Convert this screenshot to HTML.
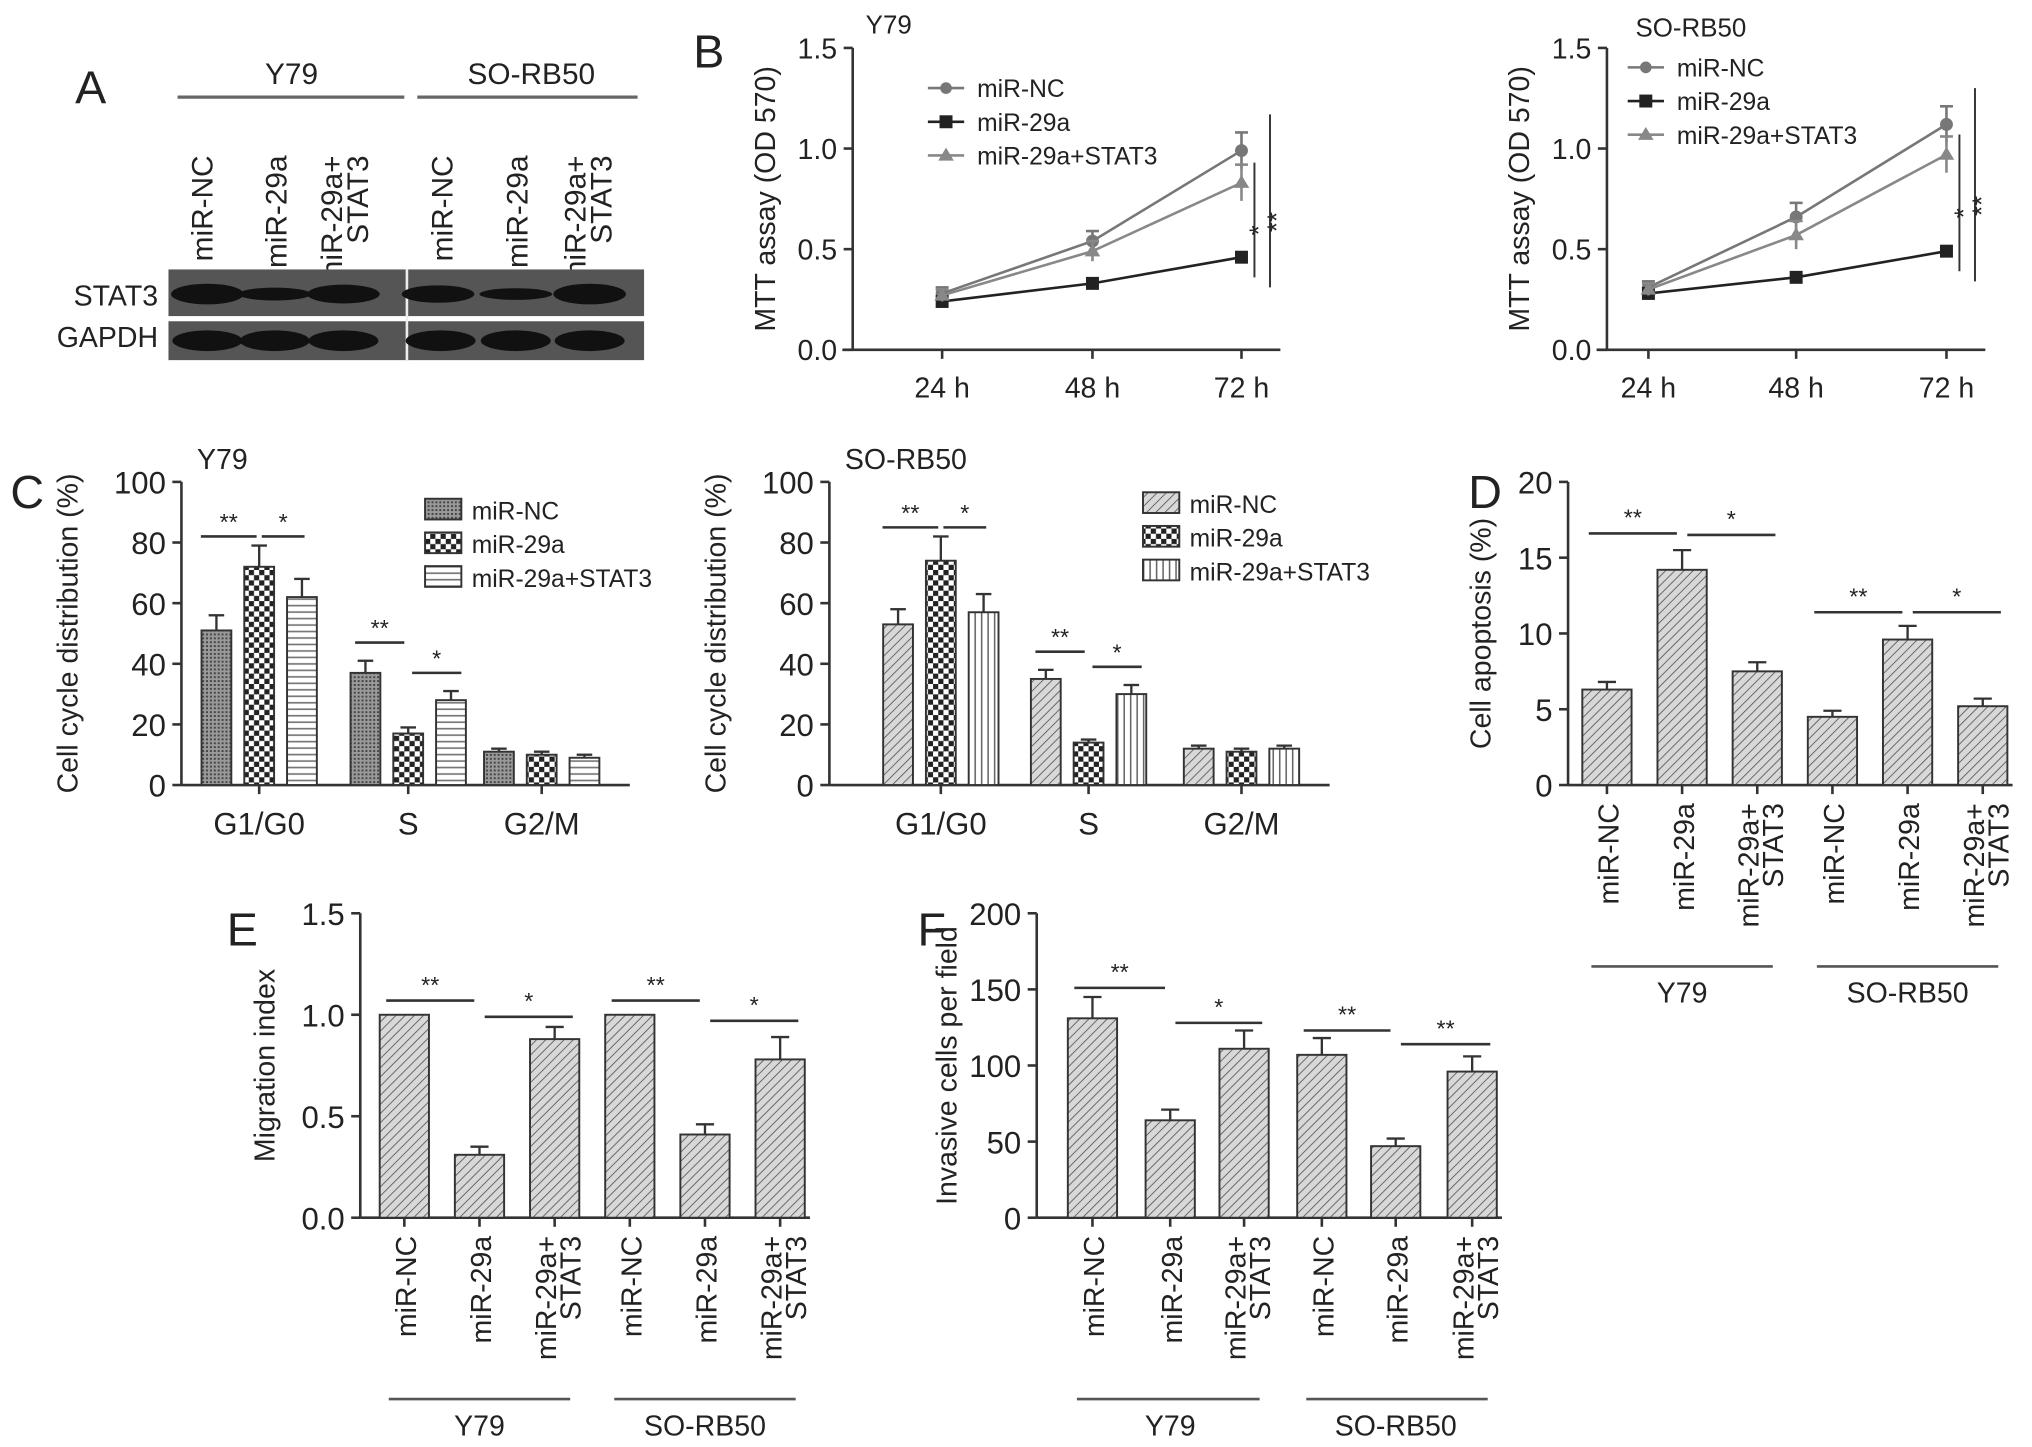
<!DOCTYPE html>
<html><head><meta charset="utf-8"><style>
html,body{margin:0;padding:0;background:#fff;}
svg{display:block;font-family:"Liberation Sans",sans-serif;}
text{fill:#222;}
</style></head><body>
<svg id="fig" width="2032" height="1447" viewBox="0 0 1568 1117" preserveAspectRatio="none" xmlns="http://www.w3.org/2000/svg">
<defs>
<pattern id="pHatch" width="5" height="5" patternUnits="userSpaceOnUse" patternTransform="rotate(45)"><rect width="5" height="5" fill="#d8d8d8"/><line x1="0" y1="0" x2="0" y2="5" stroke="#555" stroke-width="1.3"/></pattern>
<pattern id="pDense" width="3" height="3" patternUnits="userSpaceOnUse"><rect width="3" height="3" fill="#999"/><rect width="1.5" height="1.5" fill="#444"/></pattern>
<pattern id="pCheck" width="8" height="8" patternUnits="userSpaceOnUse"><rect width="8" height="8" fill="#fff"/><rect width="4" height="4" fill="#222"/><rect x="4" y="4" width="4" height="4" fill="#222"/></pattern>
<pattern id="pHoriz" width="5" height="5" patternUnits="userSpaceOnUse"><rect width="5" height="5" fill="#fff"/><line x1="0" y1="2.5" x2="5" y2="2.5" stroke="#777" stroke-width="1.3"/></pattern>
<pattern id="pVert" width="5" height="5" patternUnits="userSpaceOnUse"><rect width="5" height="5" fill="#fff"/><line x1="2.5" y1="0" x2="2.5" y2="5" stroke="#666" stroke-width="1.2"/></pattern>
</defs>
<g id="root"></g>
</svg>
<script>
// ---- Data ----
const mttTimes = ["24 h","48 h","72 h"];
const mttSeries = ["miR-NC","miR-29a","miR-29a+STAT3"];
const mttY79NC = [0.28,0.54,0.99];
const mttY79_29a = [0.24,0.33,0.46];
const mttY79_STAT3 = [0.27,0.49,0.83];
const mttY79Err = [0.03,0.05,0.09];
const mttSO_NC = [0.31,0.66,1.12];
const mttSO_29a = [0.28,0.36,0.49];
const mttSO_STAT3 = [0.30,0.57,0.97];
const mttSOErr = [0.03,0.07,0.09];
const mttTicks = [0.0,0.5,1.0,1.5];

const ccPhases = ["G1/G0","S","G2/M"];
const ccY79NC = [51,37,11];
const ccY79_29a = [72,17,10];
const ccY79_STAT3 = [62,28,9];
const ccY79Err = [[5,4,1],[7,2,1],[6,3,1]];
const ccSONC = [53,35,12];
const ccSO_29a = [74,14,11];
const ccSO_STAT3 = [57,30,12];
const ccSOErr = [[5,3,1],[8,1,1],[6,3,1]];
const ccTicks = [0,20,40,60,80,100];

const groupLabels = ["miR-NC","miR-29a","miR-29a+|STAT3","miR-NC","miR-29a","miR-29a+|STAT3"];
const apoptosisVals = [6.3,14.2,7.5,4.5,9.6,5.2];
const apoptosisErr = [0.5,1.3,0.6,0.4,0.9,0.5];
const apoptosisTicks = [0,5,10,15,20];
const migrationVals = [1.0,0.31,0.88,1.0,0.41,0.78];
const migrationErr = [0,0.04,0.06,0,0.05,0.11];
const migrationTicks = [0.0,0.5,1.0,1.5];
const invasionVals = [131,64,111,107,47,96];
const invasionErr = [14,7,12,11,5,10];
const invasionTicks = [0,50,100,150,200];

const NS="http://www.w3.org/2000/svg";
const root=document.getElementById('root');
function el(tag,attrs,parent,txt){const e=document.createElementNS(NS,tag);for(const k in attrs)e.setAttribute(k,attrs[k]);if(txt!==undefined)e.textContent=txt;(parent||root).appendChild(e);return e;}
function line(x1,y1,x2,y2,p,w,c){return el('line',{x1,y1,x2,y2,stroke:c||'#333','stroke-width':w||2},p);}
function txt(x,y,s,size,anchor,p,rot){const a={x,y,'font-size':size,'text-anchor':anchor||'middle'};if(rot)a.transform=`rotate(-90 ${x} ${y})`;return el('text',a,p,s);}

// Panel letters
[["A",58,80],["B",535,52],["C",8,392],["D",1133,392],["E",175,730],["F",708,730]].forEach(([l,x,y])=>{
 const t=txt(x,y,l,36,'start');
 
 
});

// ---- Panel A (western blot) ----
(function(){
 const g=el('g',{});
 
 
 txt(225,65,"Y79",23,'middle',g);
 line(137,75,312,75,g,2.5,'#666');
 txt(410,65,"SO-RB50",23,'middle',g); line(322,75,492,75,g,2.5,'#666');
 const cols=[155,212,262,340,398,450];
 groupLabels.forEach((l,i)=>{const parts=l.split('|');
  if(parts.length==1){txt(cols[i]+9,120,parts[0],23,'end',g,true);}
  else{txt(cols[i]+2,120,parts[0],23,'end',g,true);txt(cols[i]+22,120,parts[1],23,'end',g,true);}
 });
 txt(122,236,"STAT3",22,'end',g); txt(122,268,"GAPDH",22,'end',g);
 el('rect',{x:130,y:208,width:367,height:36,fill:'#555'},g);
 el('rect',{x:130,y:248,width:367,height:30,fill:'#555'},g);
 line(314,208,314,278,g,2,'#eee');
 const stat=[[160,1],[212,0.4],[265,0.85],[338,0.75],[398,0.3],[455,1]];
 stat.forEach(([x,s])=>el('ellipse',{cx:x,cy:227,rx:28,ry:3+5*s,fill:'#111'},g));
 [160,212,265,340,398,455].forEach(x=>el('ellipse',{cx:x,cy:263,rx:27,ry:8,fill:'#111'},g));
})();

// ---- Line chart helper ----
function lineChart(name,ox,y0,y15,xs,title,tx,ty,lgx,lgy,series,err){
 const g=el('g',{});
 
 
 const ys=v=>y0-(v/1.5)*(y0-y15);
 line(ox,y15,ox,y0,g); line(ox-8,y0,xs[2]+30,y0,g);
 mttTicks.forEach(t=>{line(ox-7,ys(t),ox,ys(t),g);txt(ox-12,ys(t)+8,t.toFixed(1),22,'end',g);});
 mttTimes.forEach((t,i)=>{line(xs[i],y0,xs[i],y0+7,g);txt(xs[i],y0+37,t,22,'middle',g);});
 txt(ox-60,(y0+y15)/2,"MTT assay (OD 570)",22,'middle',g,true);
 txt(tx,ty,title,20,'start',g);
 const cols=['#777','#222','#888'];
 series.forEach((s,si)=>{
  const pts=s.map((v,i)=>`${xs[i]},${ys(v)}`).join(' ');
  el('polyline',{points:pts,fill:'none',stroke:cols[si],'stroke-width':2},g);
  s.forEach((v,i)=>{
   if(si!=1){line(xs[i],ys(v+err[i]),xs[i],ys(v-err[i]),g,2,cols[si]);line(xs[i]-5,ys(v+err[i]),xs[i]+5,ys(v+err[i]),g,2,cols[si]);}
   const m=si==0?el('circle',{cx:xs[i],cy:ys(v),r:5,fill:cols[si]},g):si==1?el('rect',{x:xs[i]-5,y:ys(v)-5,width:10,height:10,fill:cols[si]},g):el('polygon',{points:`${xs[i]},${ys(v)-6} ${xs[i]-6},${ys(v)+4} ${xs[i]+6},${ys(v)+4}`,fill:cols[si]},g);
   
   
  });
  const ly=lgy+si*26;
  line(lgx-14,ly,lgx+14,ly,g,2,cols[si]);
  if(si==0)el('circle',{cx:lgx,cy:ly,r:4.5,fill:cols[si]},g);else if(si==1)el('rect',{x:lgx-5,y:ly-5,width:10,height:10,fill:cols[si]},g);else el('polygon',{points:`${lgx},${ly-6} ${lgx-6},${ly+4} ${lgx+6},${ly+4}`,fill:cols[si]},g);
  txt(lgx+24,ly+7,mttSeries[si],19,'start',g);
 });
 const x2=xs[2];
 line(x2+10,ys(series[2][2]+0.1),x2+10,ys(series[1][2]-0.1),g,1.5);
 line(x2+22,ys(series[0][2]+0.18),x2+22,ys(series[1][2]-0.15),g,1.5);
 txt(x2+20,ys((series[2][2]+series[1][2])/2)+8,"*",20,'middle',g,true);
 txt(x2+34,ys((series[0][2]+series[1][2])/2)+14,"**",20,'middle',g,true);
}
lineChart('mtt-y79-chart',658,270,37,[727,843,958],"Y79",668,26,730,68,[mttY79NC,mttY79_29a,mttY79_STAT3],mttY79Err);
lineChart('mtt-sorb50-chart',1240,270,37,[1272,1386,1502],"SO-RB50",1262,28,1270,52,[mttSO_NC,mttSO_29a,mttSO_STAT3],mttSOErr);

// ---- Grouped bar chart (panel C) ----
function ccChart(name,ox,y0,y100,centers,title,data,errs,fills,lgx,lgy){
 const g=el('g',{});
 
 
 const ys=v=>y0-(v/100)*(y0-y100);
 line(ox,y100,ox,y0,g); line(ox,y0,centers[2]+68,y0,g);
 ccTicks.forEach(t=>{line(ox-7,ys(t),ox,ys(t),g);txt(ox-12,ys(t)+9,t,24,'end',g);});
 ccPhases.forEach((p,i)=>{line(centers[i],y0,centers[i],y0+7,g);txt(centers[i],y0+38,p,24,'middle',g);});
 txt(ox-80,(y0+y100)/2,"Cell cycle distribution (%)",22,'middle',g,true);
 txt(ox+12,y100-10,title,22,'start',g);
 const bw=23,gap=33;
 data.forEach((s,si)=>{
  s.forEach((v,i)=>{
   const x=centers[i]+(si-1)*gap-bw/2;
   const r=el('rect',{x,y:ys(v),width:bw,height:ys(0)-ys(v),fill:fills[si],stroke:'#333','stroke-width':1.5},g);
   
   
   const e=errs[si][i];
   line(x+bw/2,ys(v),x+bw/2,ys(v+e),g,1.8);line(x+bw/2-6,ys(v+e),x+bw/2+6,ys(v+e),g,1.8);
  });
  el('rect',{x:lgx,y:lgy+si*26-8,width:28,height:16,fill:fills[si],stroke:'#333','stroke-width':1.5},g);
  txt(lgx+36,lgy+si*26+8,mttSeries[si],19,'start',g);
 });
 const sig=(xa,xb,yv,s)=>{line(xa,ys(yv),xb,ys(yv),g,2);txt((xa+xb)/2,ys(yv)-5,s,18,'middle',g);};
 const top=data[1][0]+errs[1][0]+3;
 sig(centers[0]-gap-12,centers[0]-2,top,"**");
 sig(centers[0]+2,centers[0]+gap+2,top,"*");
 sig(centers[1]-gap-8,centers[1]-3,data[0][1]+errs[0][1]+6,"**");
 sig(centers[1]+3,centers[1]+gap+8,data[2][1]+errs[2][1]+6,"*");
}
ccChart('cell-cycle-y79-chart',140,606,372,[200,315,418],"Y79",[ccY79NC,ccY79_29a,ccY79_STAT3],ccY79Err,['url(#pDense)','url(#pCheck)','url(#pHoriz)'],328,393);
ccChart('cell-cycle-sorb50-chart',640,606,372,[726,840,958],"SO-RB50",[ccSONC,ccSO_29a,ccSO_STAT3],ccSOErr,['url(#pHatch)','url(#pCheck)','url(#pVert)'],882,388);

// ---- Six-bar charts (D, E, F) ----
function sixChart(name,ox,y0,ytop,vmax,ticks,dec,xs,vals,errs,ylab,ylx,sigs,bw){
 const g=el('g',{});
 
 
 const ys=v=>y0-(v/vmax)*(y0-ytop);
 line(ox,ytop,ox,y0,g); line(ox,y0,xs[5]+bw/2+4,y0,g);
 ticks.forEach(t=>{line(ox-7,ys(t),ox,ys(t),g);txt(ox-12,ys(t)+9,t.toFixed(dec),24,'end',g);});
 txt(ylx,(y0+ytop)/2,ylab,22,'middle',g,true);
 vals.forEach((v,i)=>{
  const r=el('rect',{x:xs[i]-bw/2,y:ys(v),width:bw,height:ys(0)-ys(v),fill:'url(#pHatch)',stroke:'#333','stroke-width':1.5},g);
  
  
  const e=errs[i];
  if(e>0){line(xs[i],ys(v),xs[i],ys(v+e),g,1.8);line(xs[i]-7,ys(v+e),xs[i]+7,ys(v+e),g,1.8);}
  line(xs[i],y0,xs[i],y0+7,g);
  const parts=groupLabels[i].split('|');
  if(parts.length==1)txt(xs[i]+9,y0+14,parts[0],22,'end',g,true);
  else{txt(xs[i]+1,y0+14,parts[0],22,'end',g,true);txt(xs[i]+20,y0+14,parts[1],22,'end',g,true);}
 });
 const gy=y0+140;
 line(xs[0]-12,gy,xs[2]+12,gy,g,2,'#555'); txt(xs[1],gy+28,"Y79",22,'middle',g);
 line(xs[3]-12,gy,xs[5]+12,gy,g,2,'#555'); txt(xs[4],gy+28,"SO-RB50",22,'middle',g);
 sigs.forEach(([a,b,yv,s,first])=>{
  const xa=first?xs[a]-14:xs[a]+4, xb=first?xs[b]-4:xs[b]+14;
  line(xa,ys(yv),xb,ys(yv),g,2);txt((xa+xb)/2,ys(yv)-6,s,18,'middle',g);});
}
sixChart('apoptosis-chart',1210,606,372,20,apoptosisTicks,0,[1240,1298,1356,1414,1472,1530],apoptosisVals,apoptosisErr,"Cell apoptosis (%)",1150,
 [[0,1,16.6,"**",1],[1,2,16.5,"*",0],[3,4,11.4,"**",1],[4,5,11.4,"*",0]],38);
sixChart('migration-chart',278,940,705,1.5,migrationTicks,1,[312,370,428,486,544,602],migrationVals,migrationErr,"Migration index",212,
 [[0,1,1.07,"**",1],[1,2,0.99,"*",0],[3,4,1.07,"**",1],[4,5,0.97,"*",0]],38);
sixChart('invasion-chart',800,940,705,200,invasionTicks,0,[843,903,960,1020,1077,1136],invasionVals,invasionErr,"Invasive cells per field",738,
 [[0,1,151,"**",1],[1,2,128,"*",0],[3,4,123,"**",1],[4,5,114,"**",0]],38);
</script>
</body></html>
